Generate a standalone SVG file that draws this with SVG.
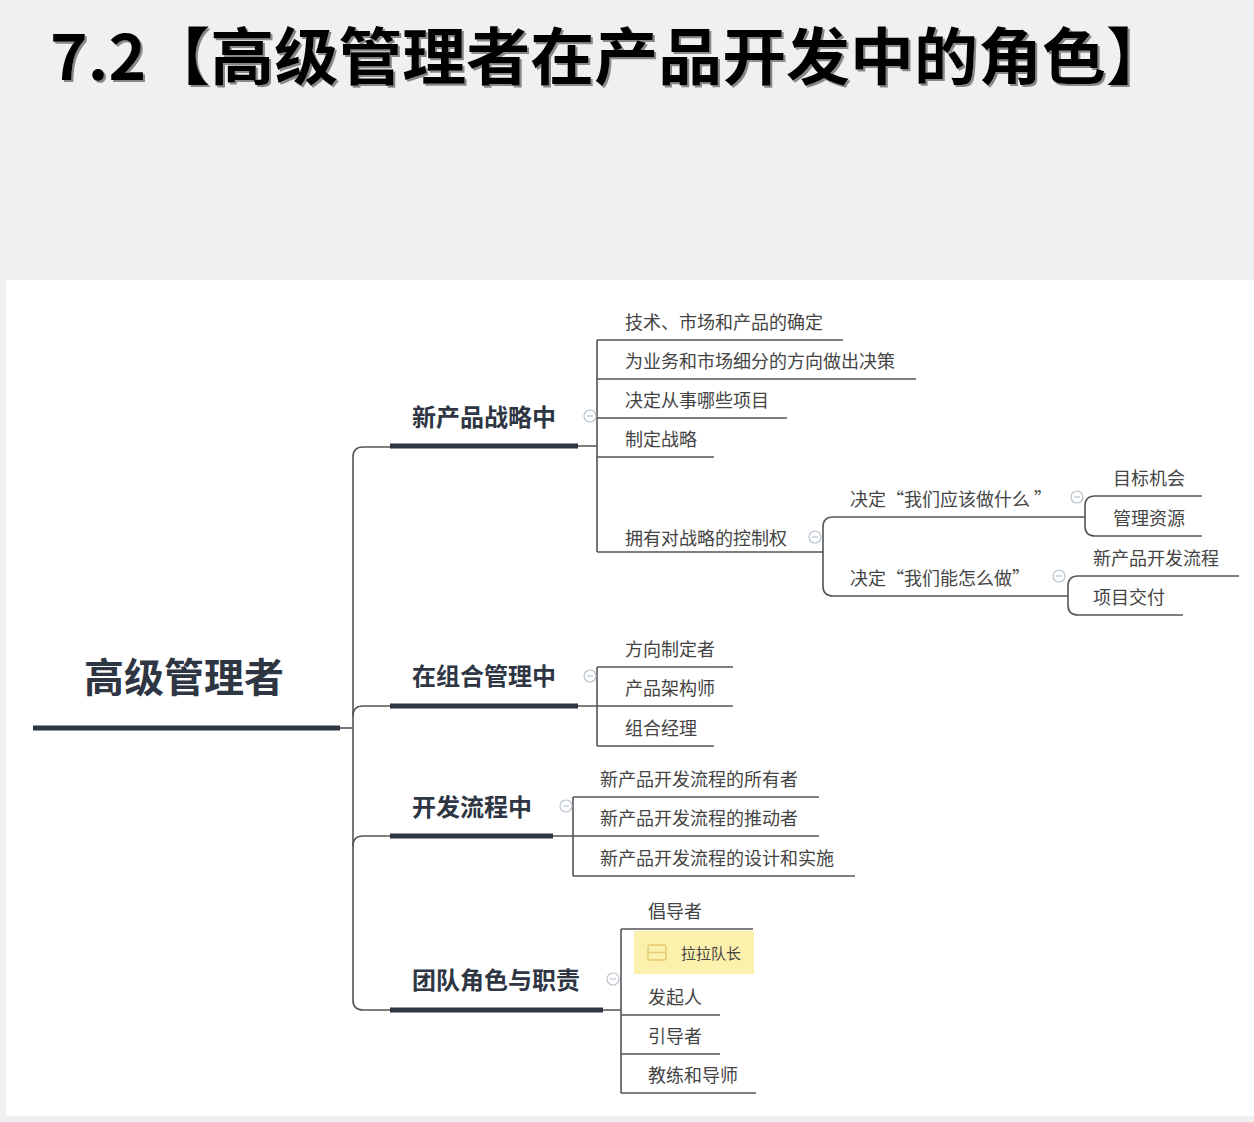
<svg xmlns="http://www.w3.org/2000/svg" width="1254" height="1122" viewBox="0 0 1254 1122">
<style>
.title{font-family:"Noto Sans CJK SC","Liberation Serif",serif;font-weight:700;font-size:62px;fill:#000}
.root{font-family:"Noto Sans CJK SC",sans-serif;font-weight:700;font-size:40px;fill:#2e3543}
.br{font-family:"Noto Sans CJK SC",sans-serif;font-weight:700;font-size:24px;fill:#2e3543}
.lf{font-family:"Noto Sans CJK SC",sans-serif;font-weight:400;font-size:18px;fill:#444}
.bar{stroke:#2e3543;stroke-width:5;fill:none}
.ul{stroke:#555;stroke-width:1.6;fill:none}
.cn{stroke:#555;stroke-width:1.6;fill:none}
.col{fill:#fff;stroke:#b9c3cf;stroke-width:1.2}
.colm{stroke:#b9c3cf;stroke-width:1.2}
</style>
<defs>
<g id="collapse"><circle class="col" r="6"/><line class="colm" x1="-3" y1="0" x2="3" y2="0"/></g>
<filter id="shadow" x="-5%" y="-20%" width="110%" height="140%"><feDropShadow dx="2" dy="2" stdDeviation="0.5" flood-color="#888" flood-opacity="1"/></filter>
</defs>
<rect width="1254" height="1122" fill="#f0f0f0"/>
<g id="title" filter="url(#shadow)">
<text class="title" x="50" y="80" textLength="1120" lengthAdjust="spacingAndGlyphs">7.2【高级管理者在产品开发中的角色】</text>
</g>
<rect x="6" y="280" width="1248" height="836" fill="#fff"/>

<g id="connectors">
<path class="cn" d="M340 728 H353"/>
<path class="cn" d="M390 447 H363 Q353 447 353 457 V1000 Q353 1010 363 1010 H390"/>
<path class="cn" d="M353 716 Q353 706 363 706 H390"/>
<path class="cn" d="M353 846 Q353 836 363 836 H390"/>
<path class="cn" d="M578 446 H597 M597 340 V552"/>
<path class="cn" d="M815 552 H823 M850 517 H833 Q823 517 823 527 V586 Q823 596 833 596 H850"/>
<path class="cn" d="M1110 496 H1095 Q1085 496 1085 506 V526 Q1085 536 1095 536 H1110"/>
<path class="cn" d="M1093 576 H1078 Q1068 576 1068 586 V605 Q1068 615 1078 615 H1093"/>
<path class="cn" d="M578 706 H597 M597 667 V746"/>
<path class="cn" d="M553 836 H573 M573 797 V876"/>
<path class="cn" d="M603 1010 H621 M621 929 V1093"/>
</g>

<g id="root"><text class="root" x="184" y="692" text-anchor="middle">高级管理者</text><line class="bar" x1="33" y1="728" x2="340" y2="728"/></g>

<g id="b1"><text class="br" x="412" y="426">新产品战略中</text><line class="bar" x1="390" y1="446" x2="578" y2="446"/><use href="#collapse" x="590" y="416"/></g>
<g id="b2"><text class="br" x="412" y="685">在组合管理中</text><line class="bar" x1="390" y1="706" x2="578" y2="706"/><use href="#collapse" x="590" y="676"/></g>
<g id="b3"><text class="br" x="412" y="816">开发流程中</text><line class="bar" x1="390" y1="836" x2="553" y2="836"/><use href="#collapse" x="566" y="806"/></g>
<g id="b4"><text class="br" x="412" y="989">团队角色与职责</text><line class="bar" x1="390" y1="1010" x2="603" y2="1010"/><use href="#collapse" x="613" y="979"/></g>

<g id="l1"><text class="lf" x="625" y="329">技术、市场和产品的确定</text><line class="ul" x1="597" y1="340" x2="843" y2="340"/></g>
<g id="l2"><text class="lf" x="625" y="368">为业务和市场细分的方向做出决策</text><line class="ul" x1="597" y1="379" x2="916" y2="379"/></g>
<g id="l3"><text class="lf" x="625" y="407">决定从事哪些项目</text><line class="ul" x1="597" y1="418" x2="787" y2="418"/></g>
<g id="l4"><text class="lf" x="625" y="446">制定战略</text><line class="ul" x1="597" y1="457" x2="714" y2="457"/></g>
<g id="l5"><text class="lf" x="625" y="545">拥有对战略的控制权</text><line class="ul" x1="597" y1="552" x2="815" y2="552"/><use href="#collapse" x="815" y="537"/></g>
<g id="s1"><text class="lf" x="850" y="506">决定“我们应该做什么 ”</text><line class="ul" x1="850" y1="517" x2="1085" y2="517"/><use href="#collapse" x="1077" y="497"/></g>
<g id="s2"><text class="lf" x="850" y="585">决定“我们能怎么做”</text><line class="ul" x1="850" y1="596" x2="1068" y2="596"/><use href="#collapse" x="1059" y="576"/></g>
<g id="t1"><text class="lf" x="1113" y="485">目标机会</text><line class="ul" x1="1110" y1="496" x2="1202" y2="496"/></g>
<g id="t2"><text class="lf" x="1113" y="525">管理资源</text><line class="ul" x1="1110" y1="536" x2="1202" y2="536"/></g>
<g id="t3"><text class="lf" x="1093" y="565">新产品开发流程</text><line class="ul" x1="1093" y1="576" x2="1239" y2="576"/></g>
<g id="t4"><text class="lf" x="1093" y="604">项目交付</text><line class="ul" x1="1093" y1="615" x2="1183" y2="615"/></g>

<g id="m1"><text class="lf" x="625" y="656">方向制定者</text><line class="ul" x1="597" y1="667" x2="733" y2="667"/></g>
<g id="m2"><text class="lf" x="625" y="695">产品架构师</text><line class="ul" x1="597" y1="706" x2="733" y2="706"/></g>
<g id="m3"><text class="lf" x="625" y="735">组合经理</text><line class="ul" x1="597" y1="746" x2="714" y2="746"/></g>

<g id="p1"><text class="lf" x="600" y="786">新产品开发流程的所有者</text><line class="ul" x1="573" y1="797" x2="819" y2="797"/></g>
<g id="p2"><text class="lf" x="600" y="825">新产品开发流程的推动者</text><line class="ul" x1="573" y1="836" x2="819" y2="836"/></g>
<g id="p3"><text class="lf" x="600" y="865">新产品开发流程的设计和实施</text><line class="ul" x1="573" y1="876" x2="855" y2="876"/></g>

<g id="r1"><text class="lf" x="648" y="918">倡导者</text><line class="ul" x1="621" y1="929" x2="753" y2="929"/></g>
<g id="r2"><rect x="634" y="931" width="120" height="43" fill="#fcf1ac"/><rect x="648" y="945" width="18" height="15" rx="2" fill="none" stroke="#e6c970" stroke-width="1.4"/><line x1="648" y1="952.5" x2="666" y2="952.5" stroke="#e6c970" stroke-width="1.4"/><text class="lf" x="681" y="959" style="font-size:15px">拉拉队长</text></g>
<g id="r3"><text class="lf" x="648" y="1004">发起人</text><line class="ul" x1="621" y1="1015" x2="720" y2="1015"/></g>
<g id="r4"><text class="lf" x="648" y="1043">引导者</text><line class="ul" x1="621" y1="1054" x2="720" y2="1054"/></g>
<g id="r5"><text class="lf" x="648" y="1082">教练和导师</text><line class="ul" x1="621" y1="1093" x2="756" y2="1093"/></g>
</svg>
